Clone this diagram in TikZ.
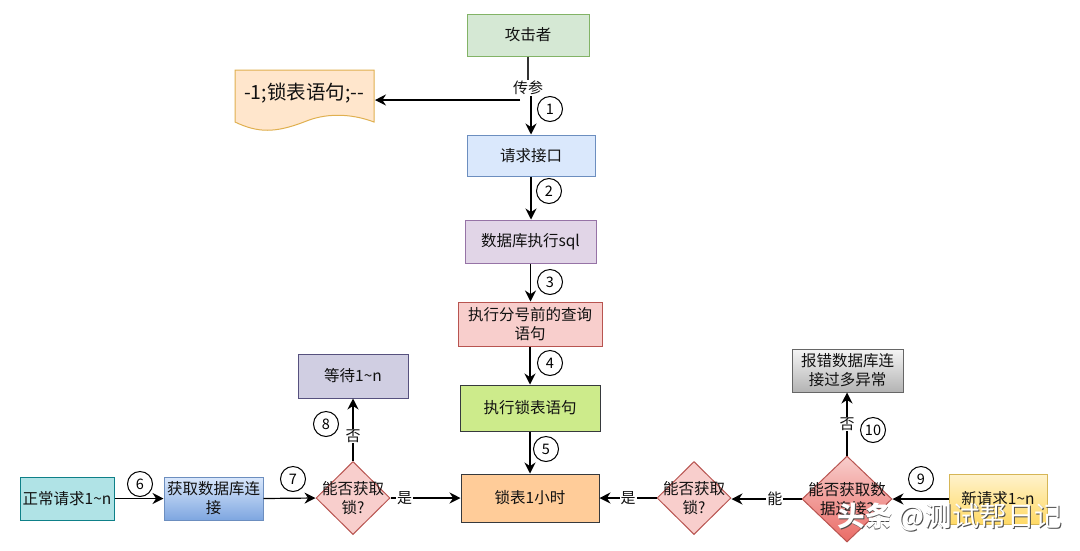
\documentclass[tikz,border=0pt]{standalone}
\usepackage{fontspec}
\setmainfont{Noto Sans CJK SC}
\usetikzlibrary{arrows.meta,shapes.geometric}

\definecolor{greenfill}{HTML}{D5E8D4}
\definecolor{greenline}{HTML}{82B366}
\definecolor{bluefill}{HTML}{DAE8FC}
\definecolor{blueline}{HTML}{6C8EBF}
\definecolor{bluedark}{HTML}{7EA6E0}
\definecolor{purplefill}{HTML}{E1D5E7}
\definecolor{purpleline}{HTML}{9673A6}
\definecolor{redfill}{HTML}{F8CECC}
\definecolor{redline}{HTML}{B85450}
\definecolor{reddark}{HTML}{EA6B66}
\definecolor{limefill}{HTML}{CDEB8B}
\definecolor{orangefill}{HTML}{FFCC99}
\definecolor{darkline}{HTML}{36393D}
\definecolor{tealfill}{HTML}{B0E3E6}
\definecolor{tealline}{HTML}{0E8088}
\definecolor{slatefill}{HTML}{D0CEE2}
\definecolor{slateline}{HTML}{56517E}
\definecolor{greyfill}{HTML}{F5F5F5}
\definecolor{greydark}{HTML}{B3B3B3}
\definecolor{greyline}{HTML}{666666}
\definecolor{yellowfill}{HTML}{FFF2CC}
\definecolor{yellowdark}{HTML}{FFD966}
\definecolor{yellowline}{HTML}{D6B656}
\definecolor{docfill}{HTML}{FFE6CC}
\definecolor{docline}{HTML}{E0B050}
\definecolor{inktext}{HTML}{111111}

\tikzset{
	box/.style={rectangle,draw,line width=1pt,inner sep=0pt,align=center,text=inktext,font=\fontsize{15.5}{19}\selectfont},
	ask/.style={diamond,draw,line width=1pt,inner sep=0pt,aspect=1},
	asktext/.style={inner sep=0pt,align=center,text=inktext,font=\fontsize{15.5}{19}\selectfont},
	arrow/.style={-{Stealth[length=11pt,width=11pt]},line width=1.2pt,black},
	plain/.style={line width=1.2pt,black!80},
	edgelabel/.style={fill=white,inner sep=1pt,text=inktext,font=\fontsize{15}{17}\selectfont},
	stepmark/.style={circle,draw,line width=1pt,fill=white,minimum size=25pt,inner sep=0pt,font=\fontsize{14.5}{16}\selectfont}
}

\begin{document}
\begin{tikzpicture}[x=1pt,y=-1pt]
	\useasboundingbox (0,0) rectangle (1080,550);

	% Draw middle column
	\node[box,fill=greenfill,draw=greenline,minimum width=122pt,minimum height=42pt] (attacker) at (528,35) {攻击者};
	\node[box,fill=bluefill,draw=blueline,minimum width=128pt,minimum height=41pt] (request) at (531,155.5) {请求接口};
	\node[box,fill=purplefill,draw=purpleline,minimum width=131pt,minimum height=43pt] (database) at (530.5,241.5) {数据库执行sql};
	\node[box,fill=redfill,draw=redline,minimum width=144pt,minimum height=44pt] (query) at (530,324) {执行分号前的查询\\语句};
	\node[box,fill=limefill,draw=darkline,minimum width=140pt,minimum height=46pt] (lockstmt) at (530,408) {执行锁表语句};
	\node[box,fill=orangefill,draw=darkline,minimum width=138pt,minimum height=48pt] (lockhour) at (530,498) {锁表1小时};

	% Draw document shape
	\draw[fill=docfill,draw=docline,line width=1pt] (235,70) -- (374,70) -- (374,122)
		.. controls (350,113) and (325,113) .. (304,122)
		.. controls (275,133) and (258,133) .. (235,122) -- cycle;
	\node[text=inktext,inner sep=0pt,font=\fontsize{19.5}{22}\selectfont] (payload) at (304,93) {-1;锁表语句;-{}-};

	% Draw left branch
	\node[box,fill=tealfill,draw=tealline,minimum width=94pt,minimum height=43pt] (normal) at (67,498.5) {正常请求1\textasciitilde n};
	\node[box,top color=bluefill,bottom color=bluedark,draw=blueline,minimum width=99pt,minimum height=43pt] (getconn) at (213.5,498.5) {获取数据库连\\接};
	\node[ask,fill=redfill,draw=redline,minimum width=74pt,minimum height=73pt] (lockleft) at (353,498) {};
	\node[asktext] (lockleftname) at (lockleft) {能否获取\\锁?};
	\node[box,fill=slatefill,draw=slateline,minimum width=110pt,minimum height=44pt] (waiting) at (353,376) {等待1\textasciitilde n};

	% Draw right branch
	\node[box,top color=yellowfill,bottom color=yellowdark,draw=yellowline,minimum width=98pt,minimum height=50pt] (newreq) at (998,499) {新请求1\textasciitilde n};
	\node[ask,top color=redfill,bottom color=reddark,draw=redline,minimum width=90pt,minimum height=86pt] (connright) at (847,499) {};
	\node[asktext] (connrightname) at (connright) {能否获取数\\据连接?};
	\node[ask,fill=redfill,draw=redline,minimum width=74pt,minimum height=73pt] (lockright) at (694,498) {};
	\node[asktext] (lockrightname) at (lockright) {能否获取\\锁?};
	\node[box,top color=greyfill,bottom color=greydark,draw=greyline,minimum width=111pt,minimum height=43pt] (error) at (847.5,370.5) {报错数据库连\\接过多异常};

	% Draw top split
	\node[edgelabel] (param) at (528,88) {传参};
	\coordinate (split) at (520,100);
	\coordinate (docedge) at (375,100);
	\draw[plain] (attacker) -- (param);
	\draw[arrow] (split) -- (docedge);
	\draw[arrow] (param.south -| request.north) -- (request.north);

	% Draw column arrows
	\draw[arrow] (request) -- (request |- database.north);
	\draw[arrow] (database) -- (database |- query.north);
	\draw[arrow] (query) -- (lockstmt);
	\draw[arrow] (lockstmt) -- (lockhour);

	% Draw bottom row arrows
	\draw[arrow] (normal) -- (getconn);
	\draw[arrow] (getconn.east) -- (lockleft.west);
	\draw[arrow] (lockleft) -- node[edgelabel,pos=0.2] (yesleft) {是} (lockhour);
	\draw[arrow] (lockleft) -- node[edgelabel,pos=0.4] (noleft) {否} (waiting);
	\draw[arrow] (newreq) -- (connright);
	\draw[arrow] (connright.west) -- node[edgelabel,pos=0.38] (canright) {能} (connright.west -| lockright.east);
	\draw[arrow] (lockright) -- node[edgelabel,pos=0.5] (yesright) {是} (lockhour);
	\draw[arrow] (connright.north) -- node[edgelabel,pos=0.5] (noright) {否} (connright.north |- error.south);

	% Label steps
	\node[stepmark] (one) at (550,109) {1};
	\node[stepmark] (two) at (549,191) {2};
	\node[stepmark] (three) at (550,282) {3};
	\node[stepmark] (four) at (550,363) {4};
	\node[stepmark] (five) at (546,449) {5};
	\node[stepmark] (six) at (140,484) {6};
	\node[stepmark] (seven) at (293,479) {7};
	\node[stepmark] (eight) at (326,424) {8};
	\node[stepmark] (nine) at (921,479) {9};
	\node[stepmark] (ten) at (873,430) {10};

	% Watermark
	\node[text=black!70,inner sep=0pt,font=\fontsize{27.5}{30}\selectfont] (markshade) at (950.8,517.8) {\textbf{头条} @测试帮日记};
	\node[text=white,inner sep=0pt,font=\fontsize{27.5}{30}\selectfont] (mark) at (950,517) {\textbf{头条} @测试帮日记};
\end{tikzpicture}
\end{document}
